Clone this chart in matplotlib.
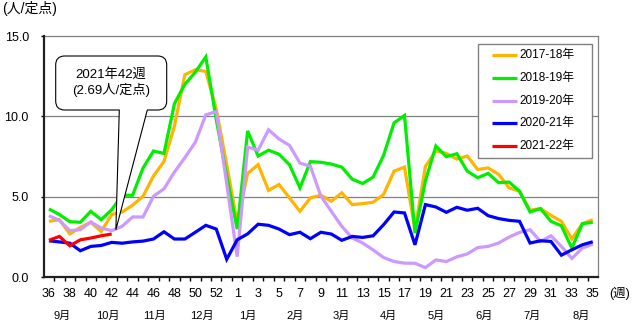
import matplotlib
matplotlib.use("Agg")
import matplotlib.pyplot as plt
from matplotlib.path import Path
from matplotlib.patches import PathPatch, Rectangle
from matplotlib.lines import Line2D
from matplotlib.transforms import blended_transform_factory

plt.rcParams['font.family'] = ['Liberation Sans', 'Noto Sans CJK JP']

# Surveillance weeks: 36..53 then 1..35
weeks = list(range(36, 54)) + list(range(1, 36))

s2017 = [3.48, 3.58, 2.7, 3.1, 3.42, 2.85, 3.9, 4.06, 4.48, 5.04,
         6.3, 7.2, 9.4, 12.6, 12.9, 12.8, 10.45, 7.0, 3.4, 6.46,
         7.0, 5.4, 5.77, 4.94, 4.1, 4.94, 5.1, 4.73, 5.25, 4.52,
         4.58, 4.67, 5.15, 6.6, 6.85, 2.96, 6.9, 7.85, 7.7, 7.35,
         7.54, 6.7, 6.8, 6.4, 5.56, 5.35, 4.17, 4.27, 3.85, 3.48,
         2.38, 3.33, 3.58]
s2018 = [4.25, 3.9, 3.46, 3.42, 4.1, 3.58, 4.2, 5.1, 5.1, 6.8,
         7.85, 7.7, 10.8, 12.0, 12.75, 13.7, 9.8, 6.3, 3.0, 9.1,
         7.54, 7.9, 7.65, 7.0, 5.56, 7.19, 7.15, 7.04, 6.85, 6.1,
         5.83, 6.23, 7.58, 9.6, 10.06, 2.75, 6.0, 8.16, 7.5, 7.68,
         6.6, 6.19, 6.46, 5.88, 5.92, 5.35, 4.06, 4.27, 3.48, 3.2,
         1.81, 3.33, 3.42]
s2019 = [3.83, 3.54, 2.9, 2.96, 3.44, 3.06, 2.9, 3.17, 3.75, 3.75,
         5.04, 5.5, 6.54, 7.44, 8.4, 10.1, 10.3, 5.8, 1.28, 8.1,
         7.9, 9.17, 8.6, 8.2, 7.1, 6.9, 5.05, 4.1, 3.17, 2.44,
         2.13, 1.7, 1.23, 0.98, 0.88, 0.87, 0.6, 1.08, 0.98, 1.27,
         1.45, 1.85, 1.92, 2.13, 2.5, 2.79, 2.96, 2.23, 2.58, 1.92,
         1.17, 1.81, 2.06]
s2020 = [2.27, 2.2, 2.12, 1.65, 1.92, 1.98, 2.17, 2.12, 2.2, 2.25,
         2.38, 2.83, 2.38, 2.38, 2.8, 3.23, 3.0, 1.12, 2.33, 2.7,
         3.3, 3.23, 3.0, 2.65, 2.8, 2.4, 2.8, 2.69, 2.3, 2.54,
         2.48, 2.58, 3.27, 4.06, 4.0, 2.02, 4.52, 4.37, 4.04, 4.35,
         4.17, 4.29, 3.83, 3.65, 3.54, 3.48, 2.13, 2.27, 2.23, 1.375,
         1.71, 2.02, 2.21]
s2021 = [2.3, 2.54, 1.96, 2.33, 2.44, 2.58, 2.69]

series_labels = ['2017-18年', '2018-19年', '2019-20年', '2020-21年', '2021-22年']
series_values = [s2017, s2018, s2019, s2020, s2021]
series_colors = ['#FFB400', '#00EE00', '#CC99FF', '#0000FF', '#FF0000']

months = ['9月', '10月', '11月', '12月', '1月', '2月', '3月', '4月',
          '5月', '6月', '7月', '8月']
month_pos = [1.25, 5.64, 10.12, 14.6, 19.0, 23.5, 27.97, 32.45,
             37.0, 41.6, 46.2, 50.9]

callout_lines = ['2021年42週', '(2.69人/定点)']

W, H = 634, 323
fig = plt.figure(figsize=(W / 100, H / 100), dpi=100)
ax = fig.add_axes([43.7 / W, 1 - 277.3 / H, (598 - 43.7) / W, (277.3 - 36) / H])


def px(x, y):
    return (x / W, 1 - y / H)


n = len(weeks)
for vals, col in zip(series_values, series_colors):
    ax.plot(range(len(vals)), vals, color=col, lw=2.3, solid_joinstyle='miter',
            solid_capstyle='butt', zorder=3)

ax.set_xlim(-0.5, n - 0.5)
ax.set_ylim(0, 15)

ax.set_yticks([0, 5, 10, 15])
ax.set_yticklabels(['0.0', '5.0', '10.0', '15.0'])
ax.tick_params(axis='y', direction='out', length=2.2, width=1, pad=8.5,
               labelsize=9, colors='black')

xt = list(range(0, n, 2))
ax.set_xticks(xt)
ax.set_xticklabels([str(weeks[i]) for i in xt])
ax.set_xticks([k - 0.5 for k in range(1, n)], minor=True)
ax.tick_params(axis='x', which='major', length=0, pad=8, labelsize=9)
ax.tick_params(axis='x', which='minor', direction='out', length=3.2, width=1,
               color='black')

for yv in (5, 10):
    ax.axhline(yv, color='#808080', lw=0.9, zorder=1)

for side in ('top', 'right'):
    ax.spines[side].set_color('#808080')
    ax.spines[side].set_linewidth(0.9)
for side in ('left', 'bottom'):
    ax.spines[side].set_color('#202020')
    ax.spines[side].set_linewidth(1.6)
    ax.spines[side].set_zorder(4)

trans = blended_transform_factory(ax.transData, ax.transAxes)
for m, p in zip(months, month_pos):
    ax.text(p, -0.158, m, transform=trans, ha='center', va='center',
            fontsize=8, clip_on=False)

fig.text(*px(2, 9), '(人/定点)', ha='left', va='center', fontsize=10)
fig.text(*px(620, 293), '(週)', ha='center', va='center', fontsize=9)

# Legend box drawn with the series styles
lx0, ly0, lx1, ly1 = 478, 44, 592, 158
fig.patches.append(Rectangle(px(lx0, ly1), (lx1 - lx0) / W, (ly1 - ly0) / H,
                             transform=fig.transFigure, facecolor='white',
                             edgecolor='#808080', lw=1.0, zorder=5))
for k, (lab, col) in enumerate(zip(series_labels, series_colors)):
    yy = 55 + 22.8 * k
    fig.lines.append(Line2D([492 / W, 517 / W], [1 - yy / H, 1 - yy / H],
                            transform=fig.transFigure, color=col, lw=2.3,
                            solid_capstyle='butt', zorder=6))
    fig.text(519 / W, 1 - yy / H, lab, ha='left', va='center', fontsize=8.5,
             zorder=6)

# Speech-bubble callout pointing at the latest week
bl, bt, br, bb, r = 55.7, 56, 166.7, 110, 9
p1, p2 = 119.3, 147.3
tip_disp = ax.transData.transform((6.4, 2.95))
tip = (tip_disp[0], H - tip_disp[1])
verts = [
    (bl + r, bt), (br - r, bt), (br, bt), (br, bt + r),
    (br, bb - r), (br, bb), (br - r, bb),
    (p2, bb), tip, (p1, bb),
    (bl + r, bb), (bl, bb), (bl, bb - r),
    (bl, bt + r), (bl, bt), (bl + r, bt), (bl + r, bt),
]
codes = [Path.MOVETO, Path.LINETO, Path.CURVE3, Path.CURVE3,
         Path.LINETO, Path.CURVE3, Path.CURVE3,
         Path.LINETO, Path.LINETO, Path.LINETO,
         Path.LINETO, Path.CURVE3, Path.CURVE3,
         Path.LINETO, Path.CURVE3, Path.CURVE3, Path.CLOSEPOLY]
path = Path([px(x, y) for x, y in verts], codes)
fig.patches.append(PathPatch(path, transform=fig.transFigure, facecolor='white',
                             edgecolor='black', lw=0.8, zorder=5))
fig.text(*px(111, 74), callout_lines[0], ha='center', va='center',
         fontsize=9.5, zorder=6)
fig.text(*px(111, 90), callout_lines[1], ha='center', va='center',
         fontsize=9.5, zorder=6)

fig.savefig('out.png', dpi=100)
